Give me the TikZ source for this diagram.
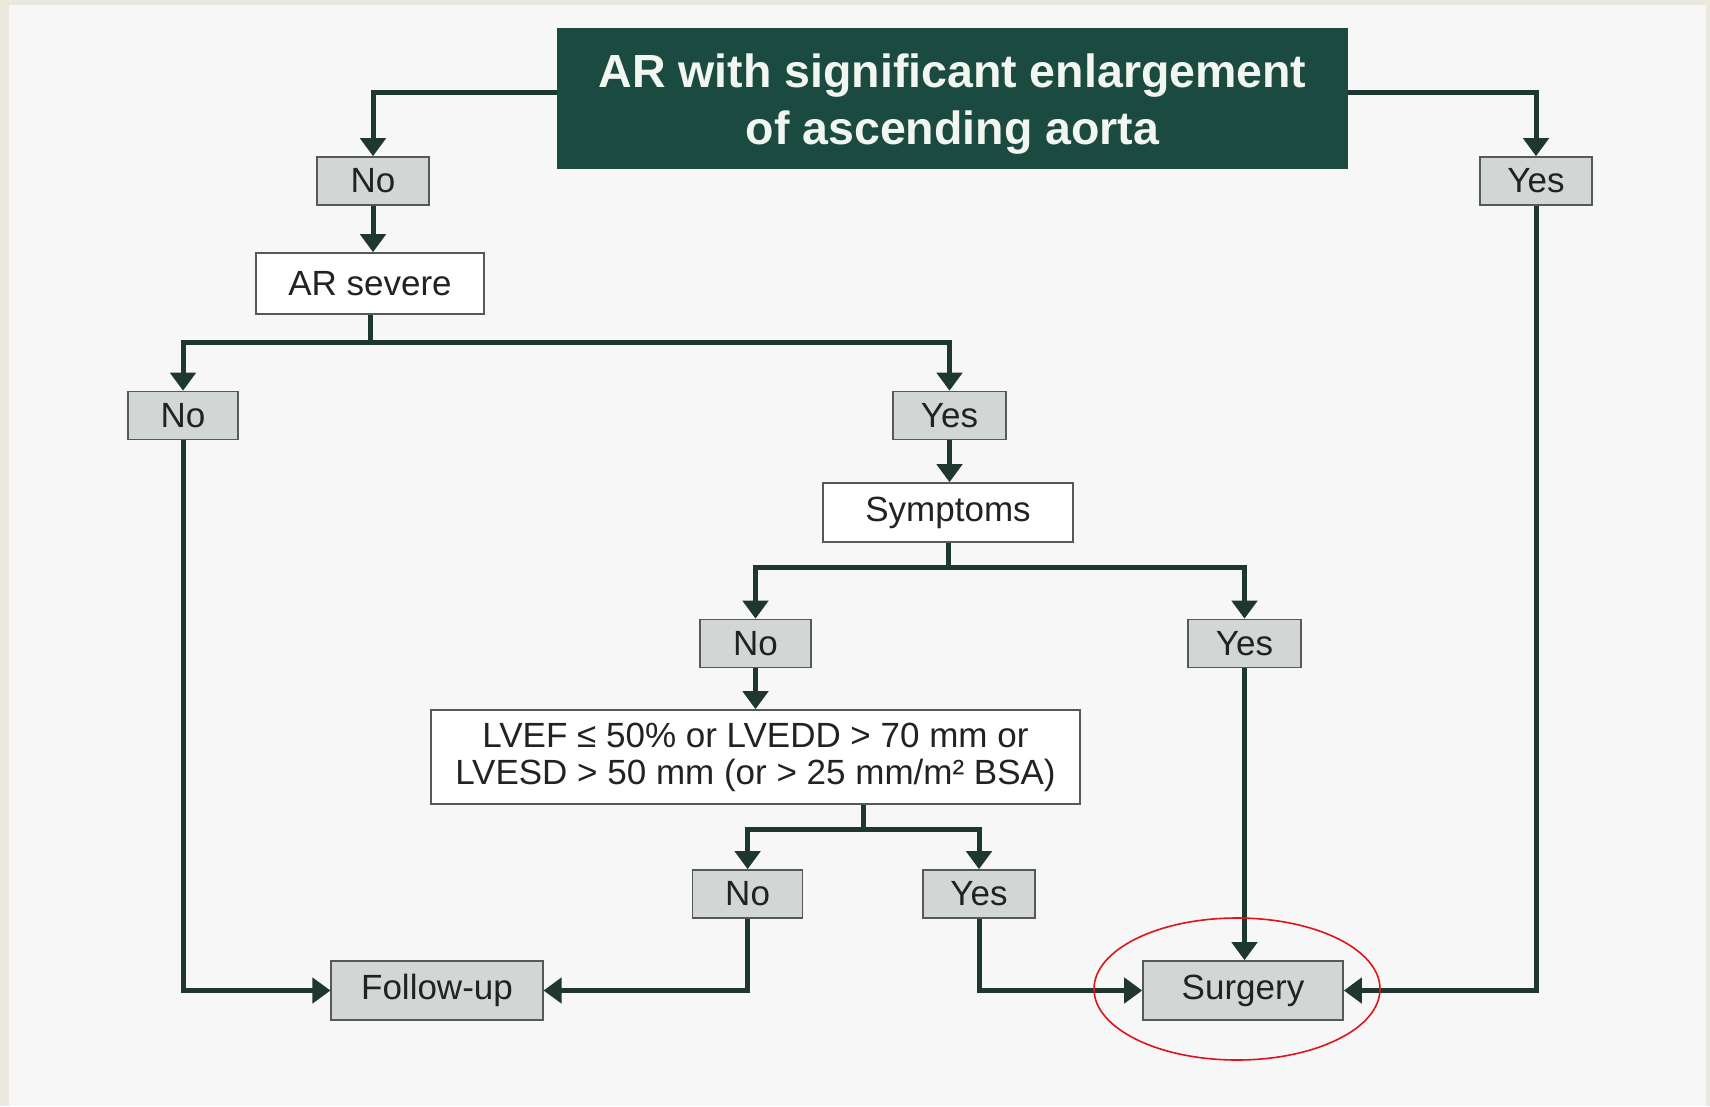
\documentclass[tikz,border=0pt]{standalone}
\usepackage{fontspec}
\setmainfont{Liberation Sans}
\usetikzlibrary{arrows.meta,shapes.geometric}
\definecolor{pagebg}{HTML}{F7F7F8}
\definecolor{beige}{HTML}{EBE9DD}
\definecolor{linecol}{HTML}{1F3731}
\definecolor{titlefill}{HTML}{1A4A40}
\definecolor{titletext}{HTML}{F2F6F0}
\definecolor{boxgrey}{HTML}{D2D6D4}
\definecolor{boxline}{HTML}{555A58}
\definecolor{txt}{HTML}{222222}
\definecolor{ringred}{HTML}{E01418}
\tikzset{
  basebox/.style={draw=boxline, line width=1.6pt, inner sep=0pt, text=txt,
    font=\fontsize{35}{42}\selectfont, align=center},
  gbox/.style={basebox, fill=boxgrey},
  wbox/.style={basebox, fill=white},
  conn/.style={draw=linecol, line width=5pt},
  arr/.style={-{Triangle[width=25pt,length=18pt]}},
}
\begin{document}
\begin{tikzpicture}[x=1pt,y=-1pt]
\useasboundingbox (0,0) rectangle (1710,1106);
\fill[beige] (0,0) rectangle (1710,1106);
\fill[pagebg] (9,5) rectangle (1706,1106);

% title
\node[fill=titlefill, minimum width=791pt, minimum height=141pt, inner sep=0pt,
  text=titletext, align=center, font=\bfseries\fontsize{46.5}{57}\selectfont]
  (title) at (952.5,98.5) {\rule{0pt}{45pt}AR with significant enlargement\\of ascending aorta};

% boxes
\node[gbox, minimum width=112pt, minimum height=48pt] (no1) at (373,181) {No};
\node[gbox, minimum width=112pt, minimum height=48pt] (yes1) at (1536,181) {Yes};
\node[wbox, minimum width=228pt, minimum height=61pt] (ars) at (370,283.5) {AR severe};
\node[gbox, minimum width=110pt, minimum height=48pt] (no2) at (183,415.5) {No};
\node[gbox, minimum width=113pt, minimum height=48pt] (yes2) at (949.5,415.5) {Yes};
\node[wbox, minimum width=250pt, minimum height=59pt] (sym) at (948,512.5) {Symptoms};
\node[gbox, minimum width=111pt, minimum height=48pt] (no3) at (755.5,643.5) {No};
\node[gbox, minimum width=113pt, minimum height=48pt] (yes3) at (1244.5,643.5) {Yes};
\node[wbox, minimum width=649pt, minimum height=94pt, font=\fontsize{35}{37}\selectfont]
  (lvef) at (755.5,757) {LVEF ≤ 50\% or LVEDD > 70 mm or\\LVESD > 50 mm (or > 25 mm/m² BSA)};
\node[gbox, minimum width=110pt, minimum height=48pt] (no4) at (747.6,894) {No};
\node[gbox, minimum width=112pt, minimum height=48pt] (yes4) at (979,894) {Yes};
\node[gbox, minimum width=211.5pt, minimum height=59pt] (fu) at (437,990.5) {Follow-up};
\node[gbox, minimum width=200pt, minimum height=59pt] (surg) at (1243,990.5) {Surgery};

% coordinates
\coordinate (tl) at ([yshift=6.5pt]title.west);
\coordinate (tr) at ([yshift=6.5pt]title.east);
\coordinate (s1) at (370,342);
\coordinate (s2) at (948,567);
\coordinate (l3) at ([xshift=107.5pt]lvef.south);
\coordinate (s3) at (863,829);

% connectors
\draw[conn,arr] (tl) -| (no1.north);
\draw[conn,arr] (tr) -| (yes1.north);
\draw[conn,arr] (no1.south) -- (no1.south |- ars.north);
\draw[conn] (ars.south) -- (s1);
\draw[conn,arr] (s1) -| (no2.north);
\draw[conn,arr] (s1) -| (yes2.north);
\draw[conn,arr] (yes2.south) -- (yes2.south |- sym.north);
\draw[conn] (sym.south) -- (s2);
\draw[conn,arr] (s2) -| (no3.north);
\draw[conn,arr] (s2) -| (yes3.north);
\draw[conn,arr] (no3.south) -- (no3.south |- lvef.north);
\draw[conn] (l3) -- (s3);
\draw[conn,arr] (s3) -| (no4.north);
\draw[conn,arr] (s3) -| (yes4.north);
\draw[conn,arr] (no2.south) |- (fu.west);
\draw[conn,arr] (no4.south) |- (fu.east);
\draw[conn,arr] (yes4.south) |- (surg.west);
\draw[conn,arr] (yes3.south) -- (yes3.south |- surg.north);
\draw[conn,arr] (yes1.south) |- (surg.east);

% highlight ring
\node[draw=ringred, line width=1.6pt, ellipse, minimum width=286pt, minimum height=142pt,
  inner sep=0pt] (ring) at (1237,989) {};
\end{tikzpicture}
\end{document}
